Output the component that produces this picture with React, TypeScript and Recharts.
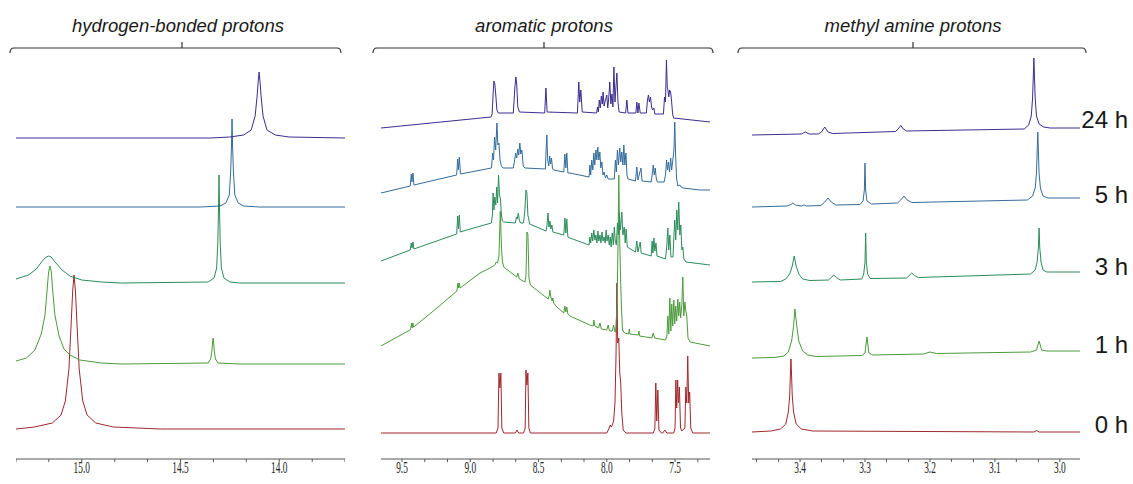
import React from "react";
import { LineChart, Line, XAxis, YAxis } from "recharts";

type Pt = [number, number];

// ---- shared ----
const TIME_LABELS = ["0 h", "1 h", "3 h", "5 h", "24 h"];
const COLORS = ["#a0282d", "#4b9b3b", "#2b8c5a", "#346c9c", "#3a2d8f"];
const PANEL_TITLES = ["hydrogen-bonded protons", "aromatic protons", "methyl amine protons"];

// ---- panel 1: hydrogen-bonded protons (ppm, intensity) ----
const HB_DOMAIN: [number, number] = [13.667, 15.333];
const HB_TICKS = [15.333, 15.167, 15.0, 14.833, 14.667, 14.5, 14.333, 14.167, 14.0, 13.833, 13.667];
const HB_LABELS = [15.0, 14.5, 14.0];
const HB_OFFSETS = [30, 95, 176, 252, 321];
const HB_0H: Pt[] = [[15.333,0],[15.24,2],[15.149,6],[15.105,14],[15.083,28],[15.065,60],[15.055,100],[15.046,138],[15.039,154],[15.032,138],[15.023,100],[15.013,60],[14.995,28],[14.973,14],[14.929,6],[14.84,2],[14.6,0],[13.667,0]];
const HB_1H: Pt[] = [[15.333,3],[15.28,6],[15.237,14],[15.205,30],[15.186,49],[15.175,75],[15.168,92],[15.161,98],[15.154,92],[15.148,75],[15.136,49],[15.115,28],[15.09,15],[15.06,9],[15.01,4],[14.9,1],[14.8,0],[14.36,1],[14.347,5],[14.341,13],[14.338,21],[14.335,26],[14.332,21],[14.329,13],[14.323,5],[14.31,1],[14.2,0],[13.667,0]];
const HB_3H: Pt[] = [[15.333,4],[15.27,8],[15.23,14],[15.2,22],[15.18,26],[15.168,27],[15.155,26],[15.135,21],[15.1,13],[15.06,7],[15.0,3],[14.9,1],[14.8,0],[14.36,1],[14.33,5],[14.317,15],[14.311,40],[14.308,70],[14.305,108],[14.302,70],[14.299,40],[14.293,15],[14.28,5],[14.25,1],[14.2,0],[13.667,0]];
const HB_5H: Pt[] = [[15.333,0],[14.4,0],[14.3,1],[14.27,4],[14.253,12],[14.246,35],[14.242,60],[14.239,88],[14.236,60],[14.232,35],[14.225,12],[14.208,4],[14.18,1],[14.1,0],[13.667,0]];
const HB_24H: Pt[] = [[15.333,0],[14.35,0],[14.25,1],[14.18,3],[14.142,8],[14.122,22],[14.112,42],[14.106,58],[14.102,66],[14.098,58],[14.092,42],[14.082,22],[14.062,8],[14.02,3],[13.95,1],[13.667,0]];

// ---- panel 2: aromatic protons ----
const ARO_DOMAIN: [number, number] = [7.244, 9.654];
const ARO_TICKS = [9.5, 9.333, 9.167, 9.0, 8.833, 8.667, 8.5, 8.333, 8.167, 8.0, 7.833, 7.667, 7.5, 7.333];
const ARO_LABELS = [9.5, 9.0, 8.5, 8.0, 7.5];
const ARO_OFFSETS = [26, 113, 194, 269, 337];
const ARO_0H: Pt[] = [[9.654,0],[8.81,0],[8.797,5],[8.79,60],[8.783,45],[8.776,60],[8.769,5],[8.755,0],[8.67,0],[8.658,3],[8.646,0],[8.61,0],[8.598,5],[8.592,63],[8.585,48],[8.578,60],[8.571,5],[8.56,0],[8.0,0],[7.985,4],[7.975,8],[7.965,6],[7.95,12],[7.94,30],[7.932,80],[7.926,150],[7.92,90],[7.912,95],[7.905,60],[7.898,50],[7.89,20],[7.88,3],[7.86,0],[7.66,0],[7.648,4],[7.641,50],[7.634,12],[7.626,43],[7.618,3],[7.6,0],[7.59,0],[7.575,3],[7.56,0],[7.51,0],[7.5,5],[7.494,53],[7.488,25],[7.481,53],[7.475,30],[7.468,46],[7.46,5],[7.45,2],[7.428,5],[7.421,46],[7.414,30],[7.407,77],[7.4,30],[7.393,41],[7.385,5],[7.37,0],[7.244,0]];
const ARO_1H: Pt[] = [[9.654,0],[9.442,16],[9.437,17],[9.43,23],[9.426,18],[9.421,23],[9.415,19],[9.244,38],[9.098,55],[9.09,63],[9.085,58],[9.08,63],[9.074,58],[8.929,73],[8.856,78],[8.82,81],[8.81,84],[8.8,83],[8.79,90],[8.78,135],[8.772,100],[8.765,85],[8.755,79],[8.67,70],[8.66,69],[8.652,73],[8.64,67],[8.6,64],[8.592,70],[8.585,114],[8.578,112],[8.57,68],[8.56,61],[8.43,47],[8.422,50],[8.417,56],[8.41,49],[8.4,45],[8.395,48],[8.39,43],[8.366,39],[8.315,33],[8.307,40],[8.3,34],[8.293,39],[8.285,32],[8.27,30],[8.124,21],[8.1,20],[8.095,26],[8.088,20],[8.06,18],[8.05,23],[8.04,17],[8.0,16],[7.99,21],[7.98,15],[7.96,15],[7.95,21],[7.94,14],[7.935,14],[7.925,40],[7.918,100],[7.912,171],[7.906,110],[7.9,73],[7.893,40],[7.885,16],[7.87,13],[7.84,12],[7.835,17],[7.83,12],[7.77,11],[7.765,15],[7.76,10],[7.67,8],[7.66,13],[7.65,8],[7.57,6],[7.56,10],[7.553,30],[7.546,12],[7.538,48],[7.531,15],[7.524,42],[7.517,20],[7.509,46],[7.502,22],[7.495,40],[7.488,25],[7.48,47],[7.473,30],[7.466,44],[7.459,28],[7.451,40],[7.443,69],[7.436,30],[7.428,44],[7.421,35],[7.414,30],[7.405,8],[7.39,4],[7.244,0]];
const ARO_3H: Pt[] = [[9.654,4],[9.44,15],[9.432,22],[9.427,17],[9.42,23],[9.413,16],[9.1,31],[9.092,49],[9.087,36],[9.08,50],[9.073,33],[9.002,36],[8.845,42],[8.838,50],[8.833,72],[8.827,55],[8.82,68],[8.813,60],[8.806,78],[8.8,62],[8.793,90],[8.786,70],[8.779,66],[8.772,50],[8.765,44],[8.755,43],[8.67,42],[8.662,48],[8.656,46],[8.648,52],[8.64,44],[8.63,42],[8.61,42],[8.6,55],[8.592,75],[8.585,72],[8.578,50],[8.565,41],[8.445,34],[8.438,40],[8.431,52],[8.424,38],[8.417,44],[8.41,36],[8.402,40],[8.395,33],[8.315,30],[8.307,47],[8.3,32],[8.293,46],[8.285,28],[8.27,27],[8.13,20],[8.124,28],[8.118,22],[8.11,32],[8.103,24],[8.095,35],[8.087,25],[8.08,30],[8.072,22],[8.065,34],[8.058,24],[8.05,30],[8.043,22],[8.035,33],[8.028,24],[8.02,28],[8.012,22],[8.005,35],[7.998,24],[7.99,30],[7.982,20],[7.975,28],[7.968,18],[7.96,32],[7.952,20],[7.945,38],[7.938,24],[7.93,20],[7.922,42],[7.915,30],[7.908,52],[7.9,35],[7.89,53],[7.882,30],[7.872,38],[7.865,22],[7.858,36],[7.85,18],[7.79,13],[7.78,24],[7.772,13],[7.755,23],[7.748,12],[7.675,9],[7.668,24],[7.662,12],[7.655,27],[7.648,14],[7.64,22],[7.632,9],[7.57,6],[7.56,20],[7.553,37],[7.546,15],[7.538,30],[7.53,8],[7.515,8],[7.508,30],[7.502,45],[7.495,25],[7.487,55],[7.48,35],[7.473,63],[7.465,30],[7.458,40],[7.45,15],[7.443,18],[7.435,6],[7.42,3],[7.244,0]];
const ARO_5H: Pt[] = [[9.654,-3],[9.44,4],[9.432,16],[9.427,8],[9.42,17],[9.413,5],[9.1,15],[9.092,31],[9.087,20],[9.08,33],[9.072,16],[8.845,22],[8.836,37],[8.83,30],[8.822,53],[8.814,40],[8.805,67],[8.798,45],[8.79,47],[8.782,30],[8.772,24],[8.76,22],[8.685,22],[8.675,30],[8.668,37],[8.66,32],[8.652,41],[8.645,35],[8.637,47],[8.63,36],[8.622,40],[8.612,24],[8.6,22],[8.45,21],[8.443,45],[8.439,55],[8.433,30],[8.425,24],[8.418,34],[8.412,26],[8.405,32],[8.398,22],[8.39,20],[8.315,18],[8.307,36],[8.3,22],[8.293,37],[8.285,17],[8.27,17],[8.13,13],[8.124,25],[8.118,15],[8.11,30],[8.102,20],[8.095,37],[8.088,25],[8.08,40],[8.073,30],[8.066,43],[8.058,30],[8.051,38],[8.044,22],[8.036,28],[8.028,15],[8.02,18],[8.01,12],[8.0,15],[7.99,11],[7.945,11],[7.937,30],[7.93,18],[7.922,40],[7.915,25],[7.905,42],[7.898,28],[7.89,38],[7.882,25],[7.875,45],[7.868,25],[7.86,37],[7.852,15],[7.845,11],[7.79,9],[7.78,23],[7.772,10],[7.75,22],[7.742,9],[7.675,8],[7.665,18],[7.66,25],[7.652,15],[7.645,22],[7.638,12],[7.63,8],[7.58,8],[7.57,15],[7.562,30],[7.555,20],[7.548,28],[7.54,18],[7.532,32],[7.525,20],[7.518,28],[7.508,40],[7.502,68],[7.496,35],[7.489,12],[7.48,4],[7.465,5],[7.455,3],[7.44,2],[7.319,0],[7.244,0]];
const ARO_24H: Pt[] = [[9.654,-6],[8.848,5],[8.84,8],[8.832,30],[8.827,41],[8.82,38],[8.812,25],[8.805,12],[8.795,9],[8.685,9],[8.673,35],[8.666,45],[8.66,38],[8.652,15],[8.64,10],[8.455,9],[8.446,34],[8.437,10],[8.215,9],[8.205,40],[8.198,20],[8.19,32],[8.18,10],[8.075,9],[8.068,15],[8.062,10],[8.055,22],[8.048,14],[8.04,26],[8.033,18],[8.027,30],[8.02,16],[8.01,22],[8.0,27],[7.993,14],[7.985,25],[7.978,40],[7.97,18],[7.962,28],[7.955,15],[7.948,55],[7.94,20],[7.933,35],[7.926,49],[7.918,20],[7.91,10],[7.862,9],[7.853,22],[7.845,9],[7.787,9],[7.78,20],[7.772,9],[7.765,19],[7.755,9],[7.71,9],[7.702,22],[7.695,27],[7.688,20],[7.68,25],[7.672,15],[7.665,12],[7.655,14],[7.648,8],[7.585,8],[7.577,25],[7.57,20],[7.563,62],[7.557,35],[7.552,32],[7.546,25],[7.54,32],[7.533,30],[7.526,22],[7.518,8],[7.51,4],[7.244,0]];

// ---- panel 3: methyl amine protons ----
const ME_DOMAIN: [number, number] = [2.969, 3.474];
const ME_TICKS = [3.467, 3.433, 3.4, 3.367, 3.333, 3.3, 3.267, 3.233, 3.2, 3.167, 3.133, 3.1, 3.067, 3.033, 3.0];
const ME_LABELS = [3.4, 3.3, 3.2, 3.1, 3.0];
const ME_OFFSETS = [27, 108, 187, 261, 331];
const ME_0H: Pt[] = [[3.474,0],[3.445,1],[3.43,3],[3.422,8],[3.418,20],[3.416,36],[3.415,55],[3.414,73],[3.413,55],[3.412,36],[3.41,20],[3.406,8],[3.398,3],[3.38,1],[3.04,0],[3.036,1.5],[3.032,0],[2.969,0]];
const ME_1H: Pt[] = [[3.474,-7],[3.44,-6.5],[3.425,-5],[3.418,-1],[3.413,10],[3.41,25],[3.408,42],[3.405,25],[3.402,10],[3.396,0],[3.388,-4],[3.375,-5.5],[3.305,-4.5],[3.3,-2],[3.297,14],[3.294,-2],[3.288,-4],[3.21,-3],[3.2,-1],[3.19,-2.5],[3.045,-1],[3.036,1],[3.032,10],[3.028,1],[3.02,0],[2.969,0]];
const ME_3H: Pt[] = [[3.474,-10],[3.43,-9.5],[3.422,-7],[3.416,-2],[3.412,6],[3.409,16],[3.406,6],[3.402,-2],[3.396,-7],[3.385,-8.5],[3.356,-8],[3.352,-5.5],[3.348,-3],[3.344,-5.5],[3.338,-8],[3.305,-7],[3.302,-2],[3.3,10],[3.299,39],[3.298,10],[3.296,-2],[3.292,-6.5],[3.236,-6],[3.232,-3.5],[3.228,-1],[3.224,-3.5],[3.218,-5.5],[3.045,-2],[3.038,2],[3.035,10],[3.033,25],[3.032,44],[3.031,25],[3.029,10],[3.026,2],[3.02,0],[2.969,0]];
const ME_5H: Pt[] = [[3.474,-9],[3.42,-8],[3.414,-6.5],[3.411,-5],[3.407,-7],[3.398,-8],[3.394,-7],[3.39,-8],[3.368,-7.5],[3.362,-4],[3.357,0],[3.352,-4],[3.345,-7],[3.308,-6.5],[3.303,-3],[3.301,8],[3.3,35],[3.299,8],[3.297,-3],[3.29,-6],[3.25,-5],[3.245,-2],[3.24,2],[3.235,-2],[3.228,-4.5],[3.05,-2],[3.042,2],[3.038,10],[3.036,25],[3.034,66],[3.032,25],[3.03,10],[3.026,2],[3.018,0],[2.969,0]];
const ME_24H: Pt[] = [[3.474,-7],[3.398,-6],[3.392,-4],[3.386,-6],[3.372,-6],[3.367,-4],[3.362,1],[3.357,-4],[3.35,-5.5],[3.253,-3.5],[3.249,-1],[3.245,2.5],[3.241,-1],[3.236,-3],[3.055,-1],[3.048,3],[3.044,12],[3.042,30],[3.04,70],[3.038,30],[3.036,12],[3.032,4],[3.025,1],[3.015,0],[2.969,0]];

// ---- layout ----
const PLOT_TOP = 50;
const PLOT_H = 409;
const AXIS_H = 30;

const makeTick = (labels: number[]) => (props: any) => {
  const { x, y, payload } = props;
  const lab = labels.find((l) => Math.abs(l - payload.value) < 1e-6);
  if (lab === undefined) return <g />;
  return (
    <g transform={`translate(${x},${y + 9}) scale(0.55,1)`}>
      <text textAnchor="middle" fontFamily="'Liberation Serif', 'DejaVu Serif', serif" fontSize={17} fill="#222">
        {lab.toFixed(1)}
      </text>
    </g>
  );
};

function Panel(props: {
  left: number; width: number; domain: [number, number]; ticks: number[]; labels: number[];
  series: Pt[][]; offsets: number[];
}) {
  const { left, width, domain, ticks, labels, series, offsets } = props;
  return (
    <div style={{ position: "absolute", left, top: PLOT_TOP }}>
      <LineChart width={width} height={PLOT_H + AXIS_H} margin={{ top: 0, right: 0, bottom: 0, left: 0 }}>
        <XAxis
          type="number" dataKey="x" domain={domain} reversed allowDataOverflow
          ticks={ticks} interval={0} tickSize={3} height={AXIS_H}
          axisLine={{ stroke: "#555" }} tickLine={{ stroke: "#555" }}
          tick={makeTick(labels)}
        />
        <YAxis type="number" domain={[0, PLOT_H]} hide allowDataOverflow />
        {series.map((s, i) => (
          <Line
            key={i}
            data={s.map(([x, v]) => ({ x, y: offsets[i] + v }))}
            dataKey="y" type="linear" stroke={COLORS[i]} strokeWidth={1}
            dot={false} activeDot={false} isAnimationActive={false}
          />
        ))}
      </LineChart>
    </div>
  );
}

const BRACKETS = [
  { x1: 10, x2: 341, xc: 182, tx: 178 },
  { x1: 373, x2: 713, xc: 544, tx: 544 },
  { x1: 738, x2: 1086, xc: 913, tx: 913 },
];
const LABEL_Y = [433, 353, 275, 203, 128];

export default function App() {
  return (
    <div style={{ position: "absolute", left: 0, top: 0, width: 1133, height: 484, background: "#fff", overflow: "hidden" }}>
      <Panel left={16} width={329} domain={HB_DOMAIN} ticks={HB_TICKS} labels={HB_LABELS}
        series={[HB_0H, HB_1H, HB_3H, HB_5H, HB_24H]} offsets={HB_OFFSETS} />
      <Panel left={381} width={329} domain={ARO_DOMAIN} ticks={ARO_TICKS} labels={ARO_LABELS}
        series={[ARO_0H, ARO_1H, ARO_3H, ARO_5H, ARO_24H]} offsets={ARO_OFFSETS} />
      <Panel left={752} width={328} domain={ME_DOMAIN} ticks={ME_TICKS} labels={ME_LABELS}
        series={[ME_0H, ME_1H, ME_3H, ME_5H, ME_24H]} offsets={ME_OFFSETS} />
      <svg width={1133} height={484} style={{ position: "absolute", left: 0, top: 0, pointerEvents: "none" }}>
        {BRACKETS.map((b, i) => (
          <g key={i}>
            <path
              d={`M${b.x1},53 Q${b.x1},48 ${b.x1 + 4},48 L${b.x2 - 4},48 Q${b.x2},48 ${b.x2},53 M${b.xc},48 L${b.xc},42`}
              fill="none" stroke="#333" strokeWidth={1.2}
            />
            <text x={b.tx} y={32} textAnchor="middle" fontFamily="'Liberation Sans', Arial, sans-serif"
              fontStyle="italic" fontSize={18.5} fill="#1a1a1a">{PANEL_TITLES[i]}</text>
          </g>
        ))}
        {TIME_LABELS.map((t, i) => (
          <text key={t} x={1128} y={LABEL_Y[i]} textAnchor="end" fontFamily="'Liberation Sans', Arial, sans-serif"
            fontSize={24} fill="#1a1a1a">{t}</text>
        ))}
      </svg>
    </div>
  );
}
